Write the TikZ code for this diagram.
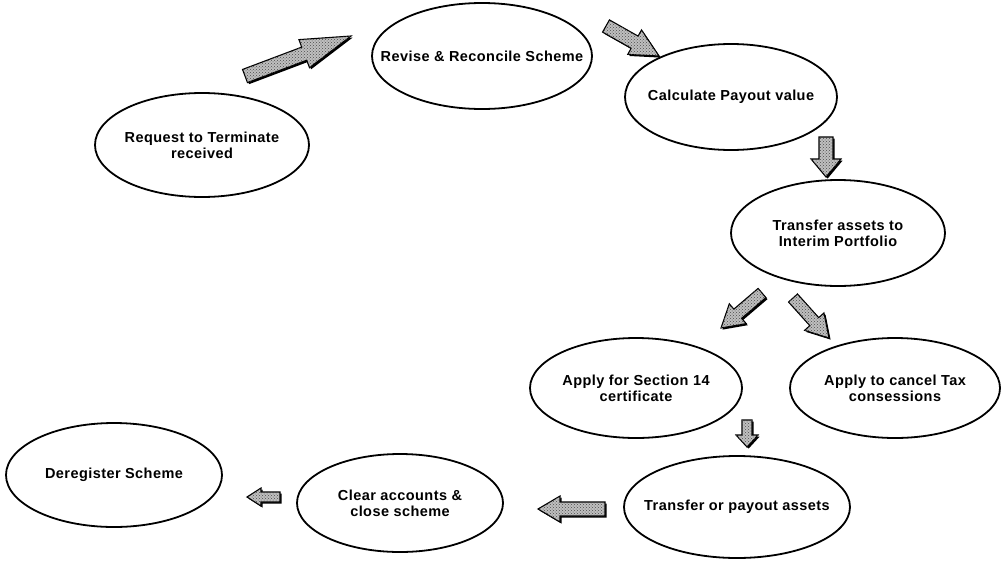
\documentclass[tikz,border=0pt]{standalone}
\usepackage{fontspec}
\setmainfont{Liberation Sans}
\newfontfamily\stagefont[LetterSpace=3.0]{Liberation Sans}
\usetikzlibrary{shapes.geometric,patterns}

% Block arrow drawn from a tail coordinate to a tip coordinate.
% #1 tail, #2 tip, #3 shaft half-width, #4 head half-width, #5 head length (all pt)
\newcommand\blockarrow[5]{%
  \path (#1); \pgfgetlastxy{\bax}{\bay}%
  \path (#2); \pgfgetlastxy{\bbx}{\bby}%
  \pgfmathsetmacro\bang{atan2(\bby-\bay,\bbx-\bax)}%
  \pgfmathsetmacro\blen{veclen(\bbx-\bax,\bby-\bay)}%
  \pgfmathsetmacro\bneck{\blen-#5}%
  \begin{scope}[shift={(#1)},shift={(1.6pt,-1.6pt)},rotate=\bang]
    \fill[black] (0pt,-#3pt) -- (\bneck pt,-#3pt) -- (\bneck pt,-#4pt) -- (\blen pt,0pt)
      -- (\bneck pt,#4pt) -- (\bneck pt,#3pt) -- (0pt,#3pt) -- cycle;
  \end{scope}
  \begin{scope}[shift={(#1)},rotate=\bang]
    \filldraw[arrowbody] (0pt,-#3pt) -- (\bneck pt,-#3pt) -- (\bneck pt,-#4pt) -- (\blen pt,0pt)
      -- (\bneck pt,#4pt) -- (\bneck pt,#3pt) -- (0pt,#3pt) -- cycle;
    \fill[pattern=crosshatch dots,pattern color=black!70] (0pt,-#3pt) -- (\bneck pt,-#3pt) -- (\bneck pt,-#4pt) -- (\blen pt,0pt)
      -- (\bneck pt,#4pt) -- (\bneck pt,#3pt) -- (0pt,#3pt) -- cycle;
  \end{scope}
}

\begin{document}
\begin{tikzpicture}[x=1pt,y=-1pt,
  stage/.style={ellipse,draw=black,line width=1.8pt,inner xsep=-60pt,inner ysep=-12pt,align=center,
    font=\stagefont\fontsize{14.5}{16}\selectfont\bfseries},
  arrowbody/.style={fill=black!25,draw=black,line width=1.1pt,line join=miter}]
\useasboundingbox (0,0) rectangle (1006,560);

% process stages
\node[stage,minimum width=214pt,minimum height=104pt] (req) at (202,145) {Request to Terminate\\received};
\node[stage,minimum width=220pt,minimum height=106pt] (rev) at (482,56) {Revise \& Reconcile Scheme};
\node[stage,minimum width=212pt,minimum height=106pt] (calc) at (731,97) {Calculate Payout value};
\node[stage,minimum width=214pt,minimum height=106pt] (tra) at (838,233) {Transfer assets to\\Interim Portfolio};
\node[stage,minimum width=212pt,minimum height=100pt] (sec) at (636,388) {Apply for Section 14\\certificate};
\node[stage,minimum width=210pt,minimum height=100pt] (tax) at (895,388) {Apply to cancel Tax\\consessions};
\node[stage,minimum width=226pt,minimum height=102pt] (pay) at (737,507) {Transfer or payout assets};
\node[stage,minimum width=206pt,minimum height=98pt] (clr) at (400,503) {Clear accounts \&\\close scheme};
\node[stage,minimum width=216pt,minimum height=104pt] (der) at (114,475) {Deregister Scheme};

% arrow ends
\coordinate (a1s) at (245,76);  \coordinate (a1e) at (351,36);
\coordinate (a2s) at (606,26);  \coordinate (a2e) at (659,56);
\coordinate (a3s) at (826,137); \coordinate (a3e) at (826,177);
\coordinate (a4s) at (762,293); \coordinate (a4e) at (721,328);
\coordinate (a5s) at (793,298); \coordinate (a5e) at (829,338);
\coordinate (a6s) at (747,420); \coordinate (a6e) at (747,447);
\coordinate (a7s) at (605,509); \coordinate (a7e) at (538,509);
\coordinate (a8s) at (280,497); \coordinate (a8e) at (247,497);

% flow arrows
\blockarrow{a1s}{a1e}{7}{15}{50}
\blockarrow{a2s}{a2e}{7}{14}{28}
\blockarrow{a3s}{a3e}{7}{15}{18}
\blockarrow{a4s}{a4e}{6}{13}{22}
\blockarrow{a5s}{a5e}{6}{13}{22}
\blockarrow{a6s}{a6e}{5}{11}{12}
\blockarrow{a7s}{a7e}{7}{13}{22}
\blockarrow{a8s}{a8e}{5}{9}{14}
\end{tikzpicture}
\end{document}
